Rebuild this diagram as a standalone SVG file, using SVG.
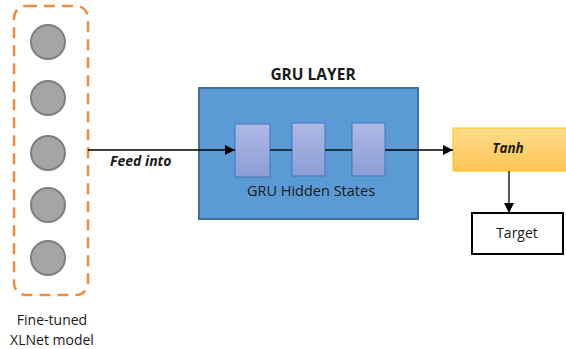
<svg xmlns="http://www.w3.org/2000/svg" width="566" height="349" viewBox="0 0 566 349">
  <defs>
    <linearGradient id="cellFill" x1="0" y1="0" x2="0" y2="1">
      <stop offset="0" stop-color="#AEB9E4"/>
      <stop offset="1" stop-color="#8C9DD6"/>
    </linearGradient>
    <linearGradient id="tanhFill" x1="0" y1="0" x2="0" y2="1">
      <stop offset="0" stop-color="#FFDD8A"/>
      <stop offset="1" stop-color="#FFC454"/>
    </linearGradient>
    <marker id="arrow" viewBox="0 0 10 10" refX="10" refY="5" markerWidth="10" markerHeight="10" markerUnits="userSpaceOnUse" orient="auto">
      <path d="M0,0 L10,5 L0,10 z" fill="#000"/>
    </marker>
  </defs>
  <style>
    .lbl { font-family: "Open Sans", "Liberation Sans", sans-serif; fill: #1a1a1a; }
    .neuron { fill: #A5A5A5; stroke: #7F7F7F; stroke-width: 2; }
    .cell { fill: url(#cellFill); stroke: #4472C4; stroke-width: 1; }
    .conn { stroke: #000; stroke-width: 1.3; fill: none; }
  </style>
  <rect width="566" height="349" fill="#FFFFFF"/>

  <!-- fine-tuned XLNet model -->
  <g id="xlnet">
    <rect x="14" y="6" width="74" height="289" rx="12" fill="none" stroke="#F08A3C" stroke-width="2.5" stroke-dasharray="11 7"/>
    <circle class="neuron" cx="48" cy="42" r="17"/>
    <circle class="neuron" cx="48" cy="98" r="17"/>
    <circle class="neuron" cx="48" cy="153" r="17"/>
    <circle class="neuron" cx="48" cy="205" r="17"/>
    <circle class="neuron" cx="48" cy="258" r="17"/>
    <text class="lbl" x="52" y="325" font-size="14" text-anchor="middle">Fine-tuned</text>
    <text class="lbl" x="52" y="345" font-size="14" text-anchor="middle">XLNet model</text>
  </g>

  <!-- GRU layer -->
  <g id="gru">
    <text class="lbl" x="313" y="80" font-size="15.5" font-weight="bold" text-anchor="middle">GRU LAYER</text>
    <rect x="199" y="88" width="219" height="131" fill="#5B9BD5" stroke="#41719C" stroke-width="2"/>
    <rect class="cell" x="235" y="124" width="35" height="53"/>
    <rect class="cell" x="292" y="123" width="33" height="53"/>
    <rect class="cell" x="352" y="123" width="33" height="53"/>
    <text class="lbl" x="311" y="196" font-size="14.5" text-anchor="middle">GRU Hidden States</text>
  </g>

  <!-- tanh activation -->
  <g id="tanh">
    <rect x="453" y="128" width="115" height="43" fill="url(#tanhFill)" stroke="#FFC000" stroke-width="1"/>
    <text class="lbl" x="508" y="153" font-size="13.5" font-weight="bold" font-style="italic" text-anchor="middle">Tanh</text>
  </g>

  <!-- output target -->
  <g id="target">
    <rect x="472" y="213" width="91" height="41" fill="#FFFFFF" stroke="#000" stroke-width="2"/>
    <text class="lbl" x="517" y="238" font-size="14" text-anchor="middle">Target</text>
  </g>

  <!-- connectors -->
  <g id="connectors">
    <line class="conn" x1="88" y1="150" x2="235" y2="150" marker-end="url(#arrow)"/>
    <line class="conn" x1="270" y1="150" x2="292" y2="150"/>
    <line class="conn" x1="325" y1="150" x2="352" y2="150"/>
    <line class="conn" x1="385" y1="150" x2="453" y2="150" marker-end="url(#arrow)"/>
    <line class="conn" x1="509" y1="171" x2="509" y2="213" marker-end="url(#arrow)"/>
    <text class="lbl" x="110" y="166" font-size="14" font-weight="bold" font-style="italic">Feed into</text>
  </g>
</svg>
